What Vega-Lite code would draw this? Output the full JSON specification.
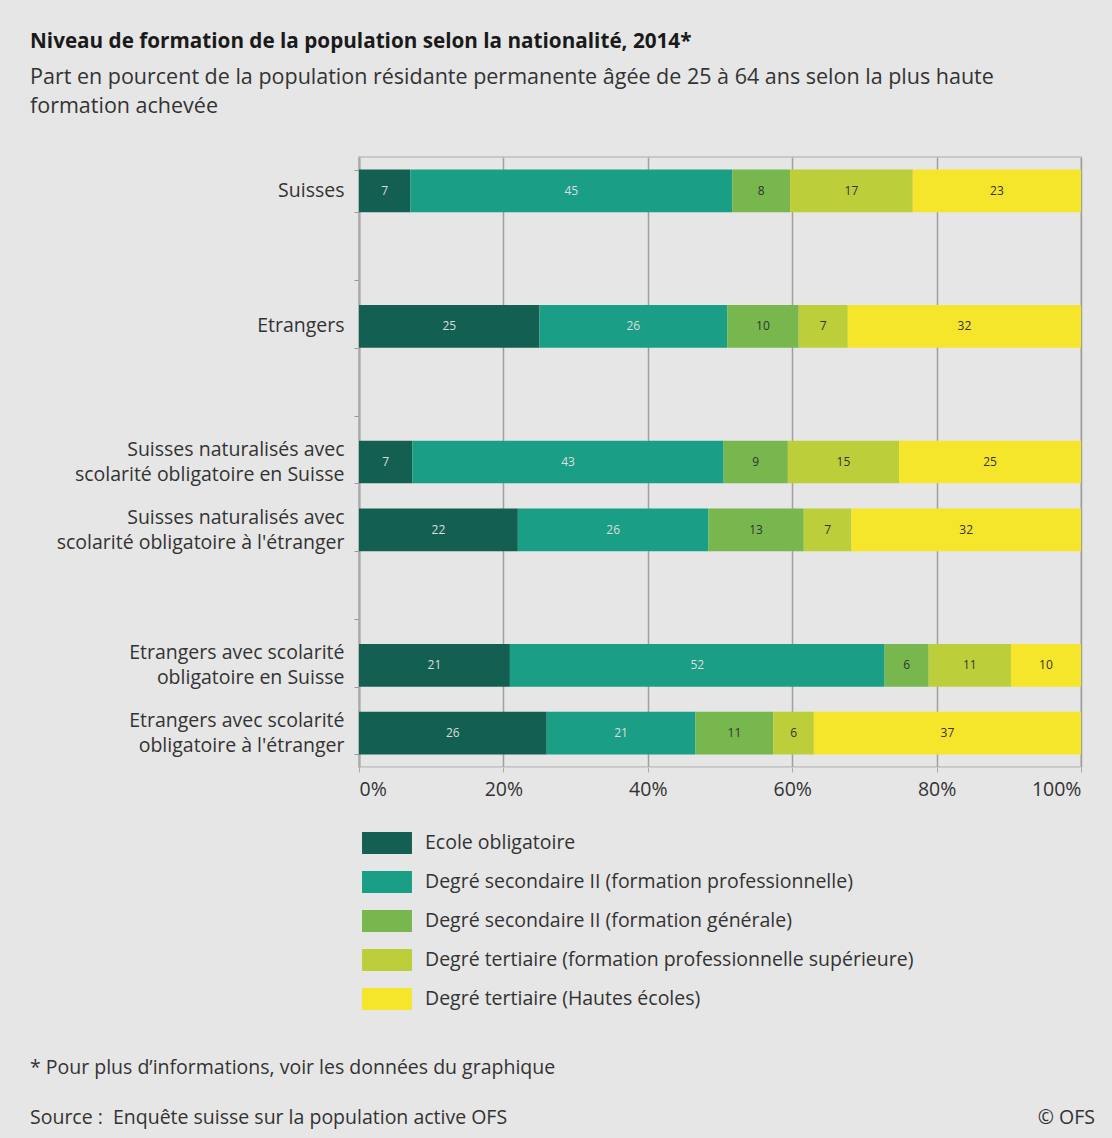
{
  "$schema": "https://vega.github.io/schema/vega-lite/v6.json",
  "width": 722,
  "height": 610,
  "autosize": {"type": "none"},
  "padding": {"left": 359, "top": 157, "right": 31, "bottom": 371},
  "background": "#e6e6e6",
  "title": {
    "text": "Niveau de formation de la population selon la nationalité, 2014*",
    "subtitle": ["Part en pourcent de la population résidante permanente âgée de 25 à 64 ans selon la plus haute", "formation achevée"],
    "anchor": "start",
    "frame": "group",
    "dx": -329,
    "offset": 29,
    "font": "Open Sans",
    "fontSize": 20.7,
    "fontWeight": "bold",
    "color": "#1a1a1a",
    "subtitleFont": "Open Sans",
    "subtitleFontSize": 21.5,
    "subtitleColor": "#333333",
    "subtitleLineHeight": 29,
    "subtitlePadding": 14
  },
  "config": {
    "view": {"stroke": "#c8c8c8", "strokeWidth": 2, "fill": "white"},
    "font": "Open Sans"
  },
  "resolve": {"axis": {"y": "independent"}},
  "data": {
    "values": [
      {"g": "Suisses", "edu": "Ecole obligatoire", "o": 1, "v": 7.1},
      {"g": "Suisses", "edu": "Degré secondaire II (formation professionnelle)", "o": 2, "v": 44.6},
      {"g": "Suisses", "edu": "Degré secondaire II (formation générale)", "o": 3, "v": 8.0},
      {"g": "Suisses", "edu": "Degré tertiaire (formation professionnelle supérieure)", "o": 4, "v": 17.0},
      {"g": "Suisses", "edu": "Degré tertiaire (Hautes écoles)", "o": 5, "v": 23.3},
      {"g": "Etrangers", "edu": "Ecole obligatoire", "o": 1, "v": 25.0},
      {"g": "Etrangers", "edu": "Degré secondaire II (formation professionnelle)", "o": 2, "v": 26.0},
      {"g": "Etrangers", "edu": "Degré secondaire II (formation générale)", "o": 3, "v": 9.9},
      {"g": "Etrangers", "edu": "Degré tertiaire (formation professionnelle supérieure)", "o": 4, "v": 6.8},
      {"g": "Etrangers", "edu": "Degré tertiaire (Hautes écoles)", "o": 5, "v": 32.3},
      {"g": "Suisses naturalisés avec|scolarité obligatoire en Suisse", "edu": "Ecole obligatoire", "o": 1, "v": 7.4},
      {"g": "Suisses naturalisés avec|scolarité obligatoire en Suisse", "edu": "Degré secondaire II (formation professionnelle)", "o": 2, "v": 43.1},
      {"g": "Suisses naturalisés avec|scolarité obligatoire en Suisse", "edu": "Degré secondaire II (formation générale)", "o": 3, "v": 8.9},
      {"g": "Suisses naturalisés avec|scolarité obligatoire en Suisse", "edu": "Degré tertiaire (formation professionnelle supérieure)", "o": 4, "v": 15.4},
      {"g": "Suisses naturalisés avec|scolarité obligatoire en Suisse", "edu": "Degré tertiaire (Hautes écoles)", "o": 5, "v": 25.2},
      {"g": "Suisses naturalisés avec|scolarité obligatoire à l'étranger", "edu": "Ecole obligatoire", "o": 1, "v": 22.0},
      {"g": "Suisses naturalisés avec|scolarité obligatoire à l'étranger", "edu": "Degré secondaire II (formation professionnelle)", "o": 2, "v": 26.4},
      {"g": "Suisses naturalisés avec|scolarité obligatoire à l'étranger", "edu": "Degré secondaire II (formation générale)", "o": 3, "v": 13.2},
      {"g": "Suisses naturalisés avec|scolarité obligatoire à l'étranger", "edu": "Degré tertiaire (formation professionnelle supérieure)", "o": 4, "v": 6.6},
      {"g": "Suisses naturalisés avec|scolarité obligatoire à l'étranger", "edu": "Degré tertiaire (Hautes écoles)", "o": 5, "v": 31.8},
      {"g": "Etrangers avec scolarité|obligatoire en Suisse", "edu": "Ecole obligatoire", "o": 1, "v": 20.9},
      {"g": "Etrangers avec scolarité|obligatoire en Suisse", "edu": "Degré secondaire II (formation professionnelle)", "o": 2, "v": 51.9},
      {"g": "Etrangers avec scolarité|obligatoire en Suisse", "edu": "Degré secondaire II (formation générale)", "o": 3, "v": 6.1},
      {"g": "Etrangers avec scolarité|obligatoire en Suisse", "edu": "Degré tertiaire (formation professionnelle supérieure)", "o": 4, "v": 11.4},
      {"g": "Etrangers avec scolarité|obligatoire en Suisse", "edu": "Degré tertiaire (Hautes écoles)", "o": 5, "v": 9.7},
      {"g": "Etrangers avec scolarité|obligatoire à l'étranger", "edu": "Ecole obligatoire", "o": 1, "v": 26.0},
      {"g": "Etrangers avec scolarité|obligatoire à l'étranger", "edu": "Degré secondaire II (formation professionnelle)", "o": 2, "v": 20.6},
      {"g": "Etrangers avec scolarité|obligatoire à l'étranger", "edu": "Degré secondaire II (formation générale)", "o": 3, "v": 10.8},
      {"g": "Etrangers avec scolarité|obligatoire à l'étranger", "edu": "Degré tertiaire (formation professionnelle supérieure)", "o": 4, "v": 5.6},
      {"g": "Etrangers avec scolarité|obligatoire à l'étranger", "edu": "Degré tertiaire (Hautes écoles)", "o": 5, "v": 37.0}
    ]
  },
  "transform": [
    {"stack": "v", "groupby": ["g"], "sort": [{"field": "o", "order": "ascending"}], "as": ["v0", "v1"]},
    {"calculate": "(datum.v0 + datum.v1) / 2", "as": "mid"}
  ],
  "layer": [
    {
      "mark": {"type": "bar"},
      "encoding": {
        "y": {
          "field": "g",
          "type": "nominal",
          "scale": {
            "domain": ["Suisses", "gap1", "Etrangers", "gap2", "Suisses naturalisés avec|scolarité obligatoire en Suisse", "Suisses naturalisés avec|scolarité obligatoire à l'étranger", "gap3", "Etrangers avec scolarité|obligatoire en Suisse", "Etrangers avec scolarité|obligatoire à l'étranger"],
            "paddingInner": 0.37,
            "paddingOuter": 0.185
          },
          "axis": {
            "title": null,
            "orient": "left",
            "labelExpr": "indexof(datum.label, '|') >= 0 ? split(datum.label, '|') : ''",
            "labelFontSize": 19.5,
            "labelColor": "#333333",
            "labelLineHeight": 25,
            "labelOffset": -12.5,
            "labelPadding": 10,
            "tickBand": "extent",
            "tickSize": 5,
            "tickColor": "#999999",
            "domainColor": "#aaaaaa",
            "domainWidth": 2,
            "labelLimit": 400
          }
        },
        "x": {
          "field": "v0",
          "type": "quantitative",
          "scale": {"domain": [0, 100], "nice": false},
          "axis": {
            "title": null,
            "values": [0, 20, 40, 60, 80, 100],
            "labelExpr": "datum.value + '%'",
            "labelFontSize": 19.5,
            "labelColor": "#333333",
            "labelPadding": 8,
            "tickSize": 5,
            "tickColor": "#aaaaaa",
            "domainColor": "#cccccc",
            "grid": true,
            "gridColor": "#a0a0a0",
            "gridWidth": 1.5
          }
        },
        "x2": {"field": "v1"},
        "color": {
          "field": "edu",
          "type": "nominal",
          "scale": {
            "domain": ["Ecole obligatoire", "Degré secondaire II (formation professionnelle)", "Degré secondaire II (formation générale)", "Degré tertiaire (formation professionnelle supérieure)", "Degré tertiaire (Hautes écoles)"],
            "range": ["#135f52", "#1a9e86", "#78b74e", "#bccf3a", "#f5e62b"]
          },
          "legend": {
            "title": null,
            "orient": "none",
            "legendX": 17,
            "legendY": 675,
            "symbolType": "M-2.27,-1H2.27V1H-2.27Z",
            "symbolSize": 484,
            "symbolStrokeWidth": 0,
            "symbolOpacity": 1,
            "labelFontSize": 19.5,
            "labelColor": "#333333",
            "labelOffset": 27,
            "rowPadding": 17,
            "labelLimit": 600,
            "padding": 0
          }
        }
      }
    },
    {
      "mark": {"type": "text", "fontSize": 12, "baseline": "middle", "align": "center"},
      "encoding": {
        "y": {
          "field": "g",
          "type": "nominal",
          "axis": {
            "title": null,
            "orient": "left",
            "labelExpr": "indexof(datum.label, '|') >= 0 || indexof(datum.label, 'gap') == 0 ? '' : datum.label",
            "labelFontSize": 19.5,
            "labelColor": "#333333",
            "labelPadding": 10,
            "tickSize": 5,
            "tickColor": "transparent",
            "domain": false,
            "labelLimit": 400
          }
        },
        "x": {"field": "mid", "type": "quantitative"},
        "text": {"field": "v", "type": "quantitative", "format": ".0f"},
        "color": {
          "condition": {"test": "datum.o <= 2", "value": "#dddddd"},
          "value": "#333333"
        }
      }
    },
    {
      "data": {"values": [{"t": "* Pour plus d’informations, voir les données du graphique"}]},
      "mark": {"type": "text", "x": -329, "y": 911, "align": "left", "baseline": "middle", "fontSize": 19.5, "color": "#333333"},
      "encoding": {"text": {"field": "t"}}
    },
    {
      "data": {"values": [{"t": "Source :\u00a0 Enquête suisse sur la population active OFS"}]},
      "mark": {"type": "text", "x": -329, "y": 961, "align": "left", "baseline": "middle", "fontSize": 19.5, "color": "#333333"},
      "encoding": {"text": {"field": "t"}}
    },
    {
      "data": {"values": [{"t": "© OFS"}]},
      "mark": {"type": "text", "x": 736, "y": 961, "align": "right", "baseline": "middle", "fontSize": 19.5, "color": "#333333"},
      "encoding": {"text": {"field": "t"}}
    }
  ]
}
